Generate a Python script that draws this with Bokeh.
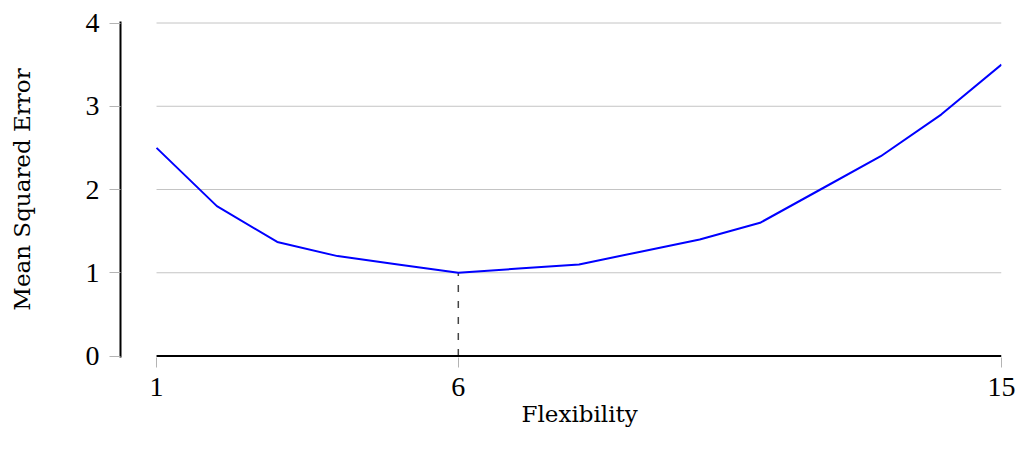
from bokeh.plotting import figure
from bokeh.models import Range1d, FixedTicker, Title, LinearAxis
from bokeh.embed import file_html
from bokeh.resources import INLINE

# Data
flexibility = [1, 2, 3, 4, 5, 6, 7, 8, 9, 10, 11, 12, 13, 14, 15]
mse = [2.5, 1.8, 1.37, 1.2, 1.1, 1.0, 1.05, 1.1, 1.25, 1.4, 1.6, 2.0, 2.4, 2.9, 3.5]
x_ticks = [1, 6, 15]
y_ticks = [0, 1, 2, 3, 4]
grid_levels = [1, 2, 3, 4]
best_x = 6
best_y = 1.0
x_label = "Flexibility"
y_label = "Mean Squared Error"

# layout geometry (pixels)
frame_left_gap = 36          # y-axis sits left of x=1
frame_width = 880
data_px = frame_width - frame_left_gap
xmin, xmax = min(flexibility), max(flexibility)
x_start = xmin - frame_left_gap * (xmax - xmin) / data_px
ypad = 1.5 * 4 / 333.0       # small pad so edge lines are not clipped

p = figure(width=1018, height=455, output_backend="svg", toolbar_location=None,
           x_range=Range1d(x_start, xmax), y_range=Range1d(-ypad, 4 + ypad),
           min_border_left=120, min_border_right=17, min_border_top=21,
           min_border_bottom=98)
p.outline_line_color = None
p.xgrid.visible = False
p.ygrid.visible = False
p.background_fill_color = "white"
p.border_fill_color = "white"

# gridlines drawn only across data span
n = len(grid_levels)
p.segment(x0=[xmin] * n, y0=grid_levels, x1=[xmax] * n, y1=grid_levels,
          line_color="#c4c4c4", line_width=1)

# dashed marker at optimum
p.segment(x0=[best_x], y0=[0], x1=[best_x], y1=[best_y],
          line_color="#444444", line_width=1.5, line_dash="7 9")

# baseline
p.segment(x0=[xmin], y0=[0], x1=[xmax], y1=[0], line_color="black", line_width=2)

# curve
p.line(flexibility, mse, line_color="#0000ff", line_width=2)

tick_font = "Liberation Serif"
label_font = "DejaVu Serif"

# x axis
xa = p.xaxis[0]
xa.ticker = FixedTicker(ticks=x_ticks)
xa.axis_line_color = None
xa.major_tick_line_color = "#b4b4b4"
xa.major_tick_out = 10
xa.major_tick_in = 0
xa.minor_tick_line_color = None
xa.major_label_text_font = tick_font
xa.major_label_text_font_size = "28px"
xa.major_label_text_color = "black"
xa.major_label_standoff = 10

# empty spacer axis (no ticks) to push the x label down
spacer = LinearAxis(ticker=FixedTicker(ticks=[]), axis_line_color=None,
                    major_tick_line_color="white", minor_tick_line_color=None,
                    major_tick_out=27, major_tick_in=0, major_label_standoff=0)
p.add_layout(spacer, "below")

# x label centred under the data span (not the whole frame)
xt = Title(text=x_label, align="left", offset=401, standoff=0,
           text_font=label_font, text_font_size="23px",
           text_font_style="normal", text_color="black")
p.add_layout(xt, "below")

# y axis
ya = p.yaxis[0]
ya.ticker = FixedTicker(ticks=y_ticks)
ya.axis_line_color = "black"
ya.axis_line_width = 2
ya.major_tick_line_color = "#b4b4b4"
ya.major_tick_out = 11
ya.major_tick_in = 0
ya.minor_tick_line_color = None
ya.major_label_text_font = tick_font
ya.major_label_text_font_size = "28px"
ya.major_label_text_color = "black"
ya.major_label_standoff = 10
ya.axis_label = y_label
ya.axis_label_text_font = label_font
ya.axis_label_text_font_size = "23px"
ya.axis_label_text_font_style = "normal"
ya.axis_label_text_color = "black"
ya.axis_label_standoff = 48

open("out.html", "w").write(file_html(p, INLINE))
